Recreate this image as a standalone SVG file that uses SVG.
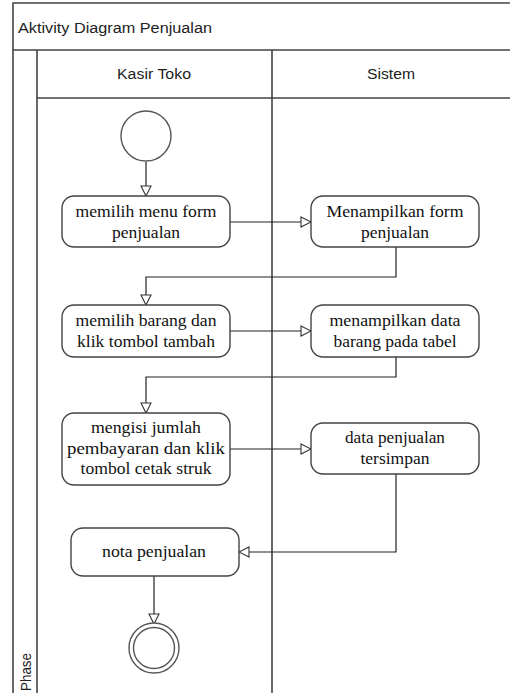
<svg xmlns="http://www.w3.org/2000/svg" width="510" height="693" viewBox="0 0 510 693">
<style>
.frame{fill:none;stroke:#444;stroke-width:1.6}
.box{fill:#fff;stroke:#444;stroke-width:1.4}
.lbl{font-family:"Liberation Sans","Open Sans",sans-serif;font-size:14px;fill:#222}
.t{font-family:"Liberation Serif","Times New Roman",serif;font-size:17.5px;fill:#111;text-anchor:middle}
.c{fill:none;stroke:#222;stroke-width:1.2}
</style>
<defs>
<marker id="arr" markerWidth="12" markerHeight="12" refX="11" refY="6" orient="auto" markerUnits="userSpaceOnUse">
<path d="M1,1 L11,6 L1,11 Z" fill="#fff" stroke="#333" stroke-width="1.1"/>
</marker>
</defs>
<rect width="510" height="693" fill="#fff"/>
<g id="frame">
<path class="frame" d="M13,693 L13,3 L512,3 M13,50 L512,50 M37,50 L37,693 M37,98 L512,98 M272,50 L272,693"/>
<text class="lbl" x="18" y="33" textLength="194" lengthAdjust="spacingAndGlyphs">Aktivity Diagram Penjualan</text>
<text class="lbl" x="117" y="79" textLength="74" lengthAdjust="spacingAndGlyphs">Kasir Toko</text>
<text class="lbl" x="367" y="79" textLength="48" lengthAdjust="spacingAndGlyphs">Sistem</text>
<text class="lbl" transform="translate(31,691) rotate(-90)" textLength="38" lengthAdjust="spacingAndGlyphs">Phase</text>
</g>
<g id="connectors">
<path class="c" d="M146,162 L146,196" marker-end="url(#arr)"/>
<path class="c" d="M230,222 L311,222" marker-end="url(#arr)"/>
<path class="c" d="M396,247 L396,277 L146,277 L146,305" marker-end="url(#arr)"/>
<path class="c" d="M230,331 L311,331" marker-end="url(#arr)"/>
<path class="c" d="M396,357 L396,377 L146,377 L146,413" marker-end="url(#arr)"/>
<path class="c" d="M230,449 L311,449" marker-end="url(#arr)"/>
<path class="c" d="M396,474 L396,552 L239,552" marker-end="url(#arr)"/>
<path class="c" d="M154,576 L154,624" marker-end="url(#arr)"/>
</g>
<g id="start"><circle cx="146" cy="136" r="25" fill="#fff" stroke="#555" stroke-width="1.4"/></g>
<g id="a1"><rect class="box" x="62" y="196" width="168" height="51" rx="12"/>
<text class="t" x="146" y="217" textLength="141" lengthAdjust="spacingAndGlyphs">memilih menu form</text>
<text class="t" x="146" y="238">penjualan</text></g>
<g id="s1"><rect class="box" x="311" y="196" width="168" height="51" rx="12"/>
<text class="t" x="395" y="217" textLength="137" lengthAdjust="spacingAndGlyphs">Menampilkan form</text>
<text class="t" x="395" y="238">penjualan</text></g>
<g id="a2"><rect class="box" x="62" y="305" width="168" height="52" rx="12"/>
<text class="t" x="146" y="326" textLength="141" lengthAdjust="spacingAndGlyphs">memilih barang dan</text>
<text class="t" x="146" y="347" textLength="138" lengthAdjust="spacingAndGlyphs">klik tombol tambah</text></g>
<g id="s2"><rect class="box" x="311" y="305" width="168" height="52" rx="12"/>
<text class="t" x="395" y="326" textLength="131" lengthAdjust="spacingAndGlyphs">menampilkan data</text>
<text class="t" x="395" y="347" textLength="123" lengthAdjust="spacingAndGlyphs">barang pada tabel</text></g>
<g id="a3"><rect class="box" x="62" y="413" width="168" height="72" rx="12"/>
<text class="t" x="146" y="433" textLength="110" lengthAdjust="spacingAndGlyphs">mengisi jumlah</text>
<text class="t" x="146" y="454" textLength="158" lengthAdjust="spacingAndGlyphs">pembayaran dan klik</text>
<text class="t" x="146" y="474" textLength="131" lengthAdjust="spacingAndGlyphs">tombol cetak struk</text></g>
<g id="s3"><rect class="box" x="311" y="423" width="168" height="51" rx="12"/>
<text class="t" x="395" y="443" textLength="100" lengthAdjust="spacingAndGlyphs">data penjualan</text>
<text class="t" x="395" y="464">tersimpan</text></g>
<g id="a4"><rect class="box" x="71" y="528" width="168" height="48" rx="12"/>
<text class="t" x="154" y="557" textLength="104" lengthAdjust="spacingAndGlyphs">nota penjualan</text></g>
<g id="end"><circle cx="154" cy="648" r="25" fill="#fff" stroke="#555" stroke-width="1.4"/>
<circle cx="154" cy="648" r="20.5" fill="none" stroke="#555" stroke-width="1.4"/></g>
</svg>
